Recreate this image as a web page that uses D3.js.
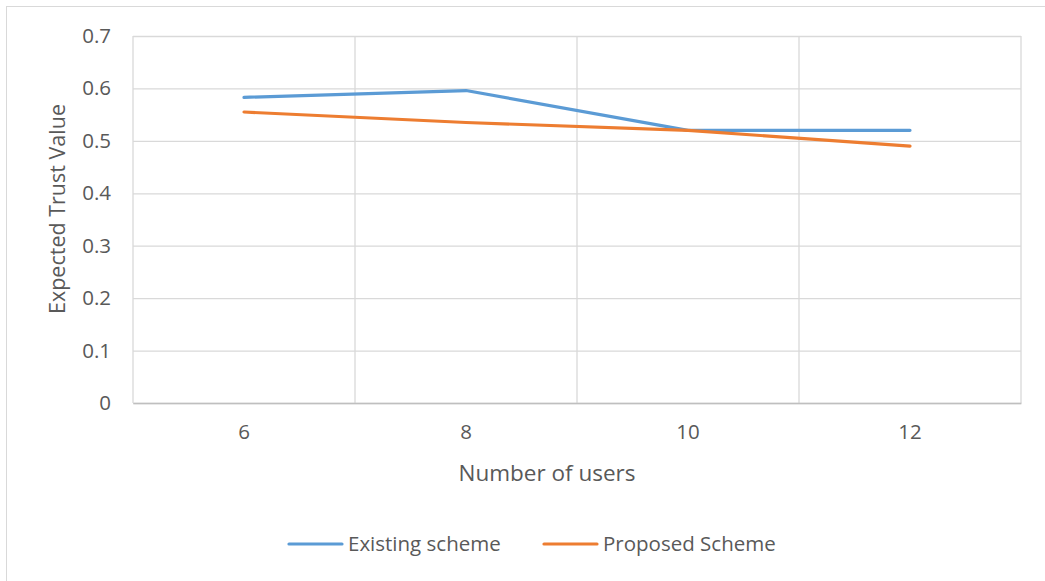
<!DOCTYPE html>
<html>
<head>
<meta charset="utf-8">
<script src="https://cdn.jsdelivr.net/npm/d3@7"></script>
<style>
  body { margin: 0; background: #fff; }
  text { font-family: 'Open Sans', sans-serif; fill: #595959; }
</style>
</head>
<body>
<svg id="chart" width="1045" height="581"></svg>
<script>
const users = ['6', '8', '10', '12']
const existing = [0.583, 0.596, 0.520, 0.520]
const proposed = [0.555, 0.535, 0.520, 0.490]
const yTicks = [0, 0.1, 0.2, 0.3, 0.4, 0.5, 0.6, 0.7]

const series = [
  { name: 'Existing scheme', values: existing, color: '#5B9BD5' },
  { name: 'Proposed Scheme', values: proposed, color: '#ED7D31' }
]

const svg = d3.select('#chart')
const margin = { top: 36, left: 133, right: 24, bottom: 178 }
const w = 1045 - margin.left - margin.right
const h = 581 - margin.top - margin.bottom

// outer frame (only left/top visible in the picture)
svg.append('rect')
  .attr('x', 6.5).attr('y', 6.5)
  .attr('width', 1100).attr('height', 700)
  .attr('fill', 'none').attr('stroke', '#D9D9D9')

const g = svg.append('g').attr('transform', `translate(${margin.left},${margin.top})`)

const x = d3.scaleBand().domain(users).range([0, w])
const y = d3.scaleLinear().domain([0, 0.7]).range([h, 0])

// horizontal grid
g.append('g')
  .call(d3.axisLeft(y).tickValues(yTicks).tickSize(-w).tickFormat(d => d === 0 ? '0' : d3.format('.1f')(d)))
  .call(a => a.select('.domain').remove())
  .call(a => a.selectAll('line').attr('stroke', '#D9D9D9').attr('stroke-width', 1.3))
  .call(a => a.selectAll('text').attr('x', -22).attr('font-size', 20.5).style('fill', '#595959'))

// vertical grid at band boundaries
const bounds = users.map(u => x(u)).concat([w])
g.append('g').selectAll('line').data(bounds).join('line')
  .attr('x1', d => d).attr('x2', d => d)
  .attr('y1', 0).attr('y2', h)
  .attr('stroke', '#D9D9D9').attr('stroke-width', 1.3)

// x axis
g.append('g')
  .attr('transform', `translate(0,${h})`)
  .call(d3.axisBottom(x).tickSize(0).tickPadding(21))
  .call(a => a.select('.domain').attr('stroke', '#BFBFBF').attr('stroke-width', 1.3))
  .call(a => a.selectAll('text').attr('font-size', 20.5).style('fill', '#595959'))

const line = d3.line()
  .x((d, i) => x(users[i]) + x.bandwidth() / 2)
  .y(d => y(d))

g.selectAll('.series').data(series).join('path')
  .attr('class', 'series')
  .attr('d', d => line(d.values))
  .attr('fill', 'none')
  .attr('stroke', d => d.color)
  .attr('stroke-width', 3.2)
  .attr('stroke-linecap', 'round')
  .attr('stroke-linejoin', 'round')

// axis titles
svg.append('text')
  .attr('x', margin.left + w / 2 - 30).attr('y', 481)
  .attr('text-anchor', 'middle').attr('font-size', 22.5)
  .text('Number of users')

svg.append('text')
  .attr('transform', `translate(65,209) rotate(-90)`)
  .attr('text-anchor', 'middle').attr('font-size', 21.5)
  .text('Expected Trust Value')

// legend
const legendPos = [289, 544]
const legend = svg.selectAll('.legend').data(series).join('g')
  .attr('class', 'legend')
  .attr('transform', (d, i) => `translate(${legendPos[i]},544)`)
legend.append('line')
  .attr('x1', 0).attr('x2', 53)
  .attr('stroke', d => d.color).attr('stroke-width', 3.2).attr('stroke-linecap', 'round')
legend.append('text')
  .attr('x', 59).attr('dy', '0.35em').attr('font-size', 20.5)
  .text(d => d.name)
</script>
</body>
</html>
